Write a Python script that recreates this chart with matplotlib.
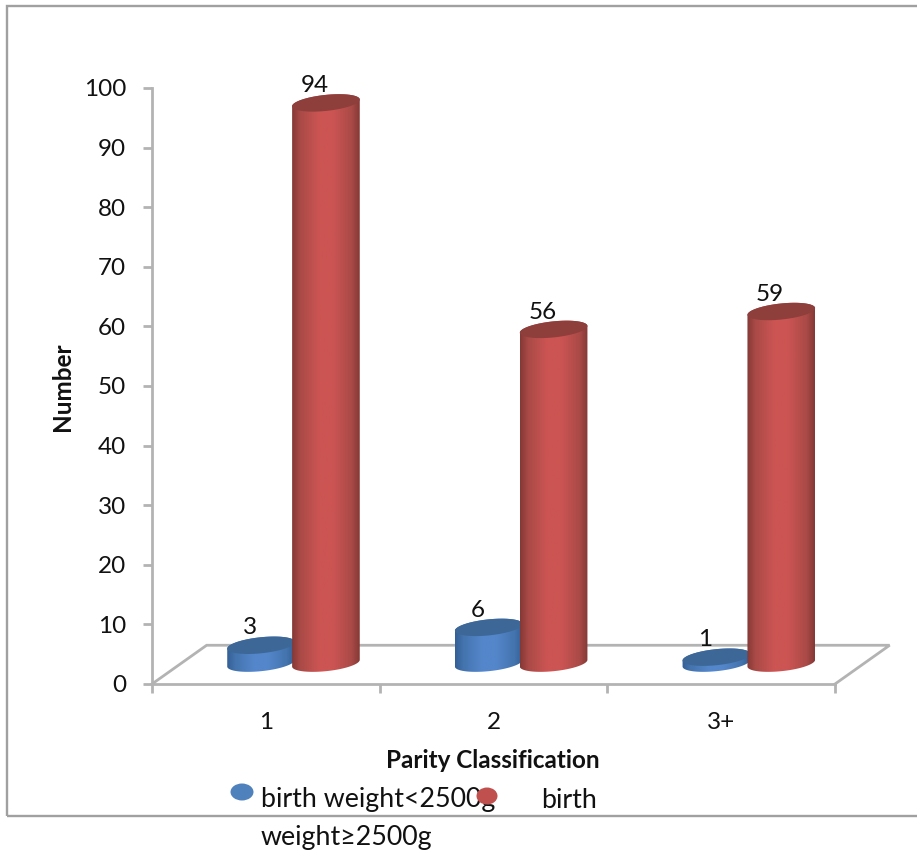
import numpy as np
import matplotlib
matplotlib.use("Agg")
import matplotlib.pyplot as plt
from matplotlib.patches import Polygon, Ellipse, Rectangle
from matplotlib.colors import LinearSegmentedColormap

categories = ["1", "2", "3+"]
low_birth_weight = [3, 6, 1]
normal_birth_weight = [94, 56, 59]
yticks = list(range(0, 101, 10))
x_title = "Parity Classification"
y_title = "Number"
legend_line1 = "birth weight<2500g"
legend_gap = "birth"
legend_line2 = "weight≥2500g"

W, H = 917, 850
plt.rcParams["font.family"] = ["Lato", "DejaVu Sans"]
fig = plt.figure(figsize=(W / 100, H / 100), dpi=100)

L, R, B, T = 152, 835, 684, 88
ax = fig.add_axes([L / W, 1 - B / H, (R - L) / W, (B - T) / H])
GREY = "#b3b3b3"
TXT = "#111111"
fs = 17.5

# outer frame
fig.add_artist(Rectangle((7 / W, 1 - 816 / H), 920 / W, 810 / H, transform=fig.transFigure,
                         fill=False, ec="#a0a0a0", lw=1.7))

px_x = (R - L) / 3
px_y = (B - T) / 100
DEPTH_X, DEPTH_Y = 0.24, 6.5
BASE = 3.5
HALF_W = 34 / px_x
OFFS = {"low": -0.021, "norm": 0.264}
stops = [0, 0.12, 0.4, 0.6, 0.88, 1]
cm_red = LinearSegmentedColormap.from_list("r", list(zip(stops, ["#843835", "#a94a47", "#cc5553", "#cc5553", "#a94a47", "#843835"])))
cm_blue = LinearSegmentedColormap.from_list("b", list(zip(stops, ["#325f94", "#4473ad", "#5486cb", "#5486cb", "#4473ad", "#325f94"])))


def ell(cx, cy, t):
    a, b, th = 34, 8, np.deg2rad(6)
    dx = a * np.cos(t) * np.cos(th) - b * np.sin(t) * np.sin(th)
    dy = a * np.cos(t) * np.sin(th) + b * np.sin(t) * np.cos(th)
    return np.column_stack([cx + dx / px_x, cy + dy / px_y])


def cylinder(i, val, off, cmap, top_col, z):
    cx = i + 0.5 + off
    y0, y1 = BASE, BASE + val
    body = np.vstack([ell(cx, y0, np.linspace(np.pi, 2 * np.pi, 60)),
                      ell(cx, y1, np.linspace(0, np.pi, 60))])
    poly = Polygon(body, closed=True, transform=ax.transData, fc="none", ec="none")
    ax.add_patch(poly)
    grad = np.linspace(0, 1, 256)[None, :]
    im = ax.imshow(grad, cmap=cmap, aspect="auto", zorder=z,
                   extent=[cx - HALF_W, cx + HALF_W, y0 - 3, y1 + 3], clip_on=True)
    im.set_clip_path(poly)
    ax.add_patch(Polygon(ell(cx, y1, np.linspace(0, 2 * np.pi, 100)), closed=True,
                         fc=top_col, ec="none", zorder=z + 0.1, clip_on=False))
    return cx, y1


# floor
ax.plot([0, DEPTH_X, 3 + DEPTH_X, 3], [0, DEPTH_Y, DEPTH_Y, 0], color=GREY, lw=2,
        clip_on=False, zorder=1, solid_joinstyle="miter")

label_pos = []
for i in range(3):
    cx, top = cylinder(i, low_birth_weight[i], OFFS["low"], cm_blue, "#3c6797", 3)
    label_pos.append((cx - 0.05, top + 2.9, low_birth_weight[i]))
for i in range(3):
    cx, top = cylinder(i, normal_birth_weight[i], OFFS["norm"], cm_red, "#8e3e3b", 5)
    label_pos.append((cx - 0.05, top + 2.85, normal_birth_weight[i]))
for x, y, v in label_pos:
    ax.text(x, y, str(v), ha="center", va="center", fontsize=fs, color=TXT, zorder=8)

ax.set_xlim(0, 3)
ax.set_ylim(0, 100)
ax.patch.set_visible(False)
for s in ("top", "right"):
    ax.spines[s].set_visible(False)
for s in ("left", "bottom"):
    ax.spines[s].set_color(GREY)
    ax.spines[s].set_linewidth(2)
ax.set_yticks(yticks)
ax.set_xticks([0, 1, 2, 3])
ax.set_xticklabels([])
ax.tick_params(axis="both", color=GREY, width=2, length=6.5, labelsize=fs, labelcolor=TXT, pad=12)
for i, c in enumerate(categories):
    ax.text(i + 0.5, -6.5, c, ha="center", va="center", fontsize=fs, color=TXT)


def ptext(x, y, s, **kw):
    fig.text(x / W, 1 - y / H, s, color=TXT, **kw)


ptext(62, 387, y_title, rotation=90, ha="center", va="center", fontsize=17.5, fontweight="bold")
ptext(493, 760, x_title, ha="center", va="center", fontsize=17.5, fontweight="bold")
ptext(261, 800, legend_line1, ha="left", va="center", fontsize=19.3)
ptext(541, 800, legend_gap, ha="left", va="center", fontsize=19.3)
ptext(261, 838, legend_line2, ha="left", va="center", fontsize=19.3)
fig.add_artist(Ellipse((242 / W, 1 - 792 / H), 23 / W, 17 / H, transform=fig.transFigure, fc="#4f81bd", ec="none", zorder=6))
fig.add_artist(Ellipse((487 / W, 1 - 796 / H), 21 / W, 17 / H, transform=fig.transFigure, fc="#c0504d", ec="none", zorder=6))

fig.savefig("out.png", dpi=100)
